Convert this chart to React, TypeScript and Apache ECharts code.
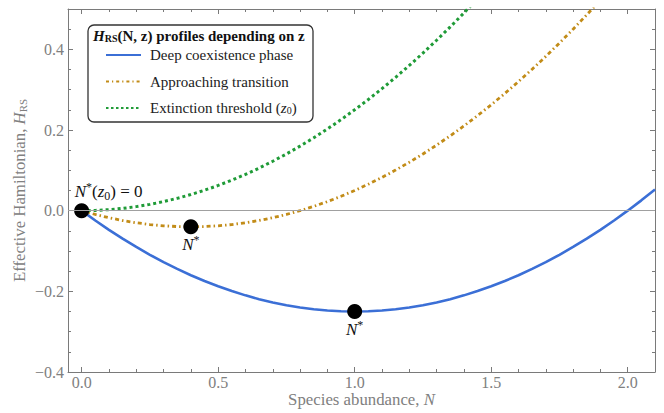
import React, { useEffect, useRef } from 'react';
import * as echarts from 'echarts';

// Species abundance N (sample grid)
const abundance = [
  0, 0.05, 0.1, 0.15, 0.2, 0.25, 0.3, 0.35, 0.4, 0.45, 0.5, 0.55, 0.6, 0.65, 0.7, 0.75, 0.8, 0.85, 0.9, 0.95, 1.0,
  1.05, 1.1, 1.15, 1.2, 1.25, 1.3, 1.35, 1.4, 1.45, 1.5, 1.55, 1.6, 1.65, 1.7, 1.75, 1.8, 1.85, 1.9, 1.95, 2.0, 2.05, 2.1,
];
// Effective Hamiltonian H_RS
const deepCoexistence = [
  0, -0.0244, -0.0475, -0.0694, -0.09, -0.1094, -0.1275, -0.1444, -0.16, -0.1744, -0.1875, -0.1994, -0.21, -0.2194,
  -0.2275, -0.2344, -0.24, -0.2444, -0.2475, -0.2494, -0.25, -0.2494, -0.2475, -0.2444, -0.24, -0.2344, -0.2275,
  -0.2194, -0.21, -0.1994, -0.1875, -0.1744, -0.16, -0.1444, -0.1275, -0.1094, -0.09, -0.0694, -0.0475, -0.0244, 0,
  0.0256, 0.0525,
];
const approachingTransition = [
  0, -0.0094, -0.0175, -0.0244, -0.03, -0.0344, -0.0375, -0.0394, -0.04, -0.0394, -0.0375, -0.0344, -0.03, -0.0244,
  -0.0175, -0.0094, 0, 0.0106, 0.0225, 0.0356, 0.05, 0.0656, 0.0825, 0.1006, 0.12, 0.1406, 0.1625, 0.1856, 0.21,
  0.2356, 0.2625, 0.2906, 0.32, 0.3506, 0.3825, 0.4156, 0.45, 0.4856, 0.5225, 0.5606,
];
const extinctionThreshold = [
  0, 0.0006, 0.0025, 0.0056, 0.01, 0.0156, 0.0225, 0.0306, 0.04, 0.0506, 0.0625, 0.0756, 0.09, 0.1056, 0.1225, 0.1406,
  0.16, 0.1806, 0.2025, 0.2256, 0.25, 0.2756, 0.3025, 0.3306, 0.36, 0.3906, 0.4225, 0.4556, 0.49, 0.5256,
];
// Equilibria N* marked with black dots
const equilibriaN = [0, 0.4, 1.0];
const equilibriaH = [0, -0.04, -0.25];
const equilibriaLabels = ['{i|N}{sup|*}{t|(}{i|z}{sub|0}{t|) = 0}', '{i|N}{sup|*}', '{i|N}{sup|*}'];

const seriesNames = ['Deep coexistence phase', 'Approaching transition', 'Extinction threshold (z0)'];
const legendTexts = ['{t|Deep coexistence phase}', '{t|Approaching transition}', '{t|Extinction threshold (}{i|z}{sub|0}{t|)}'];
const xMajorTicks = [0, 0.5, 1.0, 1.5, 2.0];
const yMajorTicks = [-0.4, -0.2, 0, 0.2, 0.4];

const COLORS = ['#3b6fd6', '#c28c18', '#1f9b37'];
const WIDTHS = [2.6, 2.8, 3];
const DASHES: any[] = [null, [4, 3, 1.5, 3], [3, 3]];

const SERIF = "'Liberation Serif', serif";
const FRAME = '#7a7a7a';
const LABEL = '#808080';
const TICK_FS = 16;
const NAME_FS = 16.8;

const fmtTick = (ticks: number[]) => (v: number) => {
  const hit = ticks.some((t) => Math.abs(t - v) < 1e-6);
  if (!hit) return '';
  const a = Math.abs(v) < 1e-9 ? 0 : v;
  return (a < 0 ? '\u2212' : '') + Math.abs(a).toFixed(1);
};

const markRich = {
  i: { fontStyle: 'italic', fontSize: 17, fontFamily: SERIF, color: '#111', lineHeight: 21 },
  t: { fontSize: 17, fontFamily: SERIF, color: '#111', lineHeight: 21 },
  sup: { fontSize: 12, fontFamily: SERIF, color: '#111', verticalAlign: 'top', lineHeight: 15 },
  sub: { fontSize: 12, fontFamily: SERIF, color: '#111', verticalAlign: 'bottom', lineHeight: 12 },
};

function xAxisDef(position: 'bottom' | 'top', major: boolean, withLabels: boolean): any {
  const step = major ? 0.5 : 0.1;
  return {
    type: 'value',
    position,
    min: -0.05,
    max: 2.1,
    minInterval: step,
    maxInterval: step,
    splitNumber: major ? 4 : 21,
    axisLine: { show: major, onZero: false, lineStyle: { color: FRAME, width: 1 } },
    axisTick: { show: true, inside: true, length: major ? 5 : 3, lineStyle: { color: FRAME, width: 1 } },
    axisLabel: {
      show: withLabels,
      formatter: fmtTick(xMajorTicks),
      color: LABEL,
      fontFamily: SERIF,
      fontSize: TICK_FS,
      lineHeight: 16,
      margin: 2,
    },
    splitLine: { show: false },
    ...(withLabels
      ? {
          name: '{n|Species abundance, }{i|N}',
          nameLocation: 'middle',
          nameGap: 19,
          nameMoveOverlap: false,
          nameTextStyle: {
            rich: {
              n: { fontFamily: SERIF, fontSize: NAME_FS, color: LABEL, lineHeight: 17 },
              i: { fontFamily: SERIF, fontSize: NAME_FS, color: LABEL, fontStyle: 'italic', lineHeight: 17 },
            },
          },
        }
      : {}),
  };
}

function yAxisDef(position: 'left' | 'right', major: boolean, withLabels: boolean): any {
  const step = major ? 0.2 : 0.05;
  return {
    type: 'value',
    position,
    min: -0.4,
    max: 0.5,
    minInterval: step,
    maxInterval: step,
    splitNumber: major ? 4 : 18,
    axisLine: { show: major, onZero: false, lineStyle: { color: FRAME, width: 1 } },
    axisTick: { show: true, inside: true, length: major ? 5 : 3, lineStyle: { color: FRAME, width: 1 } },
    axisLabel: {
      show: withLabels,
      formatter: fmtTick(yMajorTicks),
      color: LABEL,
      fontFamily: SERIF,
      fontSize: TICK_FS,
      margin: 4,
    },
    splitLine: { show: false },
    ...(withLabels
      ? {
          name: '{n|Effective Hamiltonian, }{i|H}{s|RS}',
          nameLocation: 'middle',
          nameGap: 40,
          nameMoveOverlap: false,
          nameTextStyle: {
            rich: {
              n: { fontFamily: SERIF, fontSize: NAME_FS, color: LABEL },
              i: { fontFamily: SERIF, fontSize: NAME_FS, color: LABEL, fontStyle: 'italic' },
              s: { fontFamily: SERIF, fontSize: 11, color: LABEL, verticalAlign: 'bottom' },
            },
          },
        }
      : {}),
  };
}

export default function App() {
  const ref = useRef<HTMLDivElement>(null);

  useEffect(() => {
    document.body.style.margin = '0';
    if (!ref.current) return;
    const chart = echarts.init(ref.current, undefined, { renderer: 'svg' });

    const legendRows = [55, 81.5, 108];
    const legendGraphics: any[] = [];
    seriesNames.forEach((_, k) => {
      legendGraphics.push({
        type: 'line',
        z: 6,
        shape: { x1: 106, y1: legendRows[k], x2: 141, y2: legendRows[k] },
        style: {
          stroke: COLORS[k],
          lineWidth: k === 0 ? 2 : 2.2,
          lineDash: DASHES[k] ? (k === 1 ? [3, 3, 1.2, 3] : [2.5, 2.5]) : null,
        },
      });
      legendGraphics.push({
        type: 'text',
        z: 6,
        x: 150,
        y: legendRows[k],
        style: {
          text: legendTexts[k],
          verticalAlign: 'middle',
          fontFamily: SERIF,
          fontSize: 15,
          fill: '#222',
          rich: {
            t: { fontFamily: SERIF, fontSize: 15, fontWeight: 'normal', fill: '#222' },
            i: { fontFamily: SERIF, fontSize: 15, fill: '#222', fontStyle: 'italic' },
            sub: { fontFamily: SERIF, fontSize: 10, fill: '#222', verticalAlign: 'bottom' },
          },
        },
      });
    });

    const option: any = {
      animation: false,
      backgroundColor: '#ffffff',
      textStyle: { fontFamily: SERIF },
      grid: { left: 68, right: 9, top: 9, bottom: 41, containLabel: false, outerBoundsMode: 'none' },
      xAxis: [
        xAxisDef('bottom', true, true),
        xAxisDef('bottom', false, false),
        xAxisDef('top', true, false),
        xAxisDef('top', false, false),
      ],
      yAxis: [
        yAxisDef('left', true, true),
        yAxisDef('left', false, false),
        yAxisDef('right', true, false),
        yAxisDef('right', false, false),
      ],
      graphic: [
        {
          type: 'rect',
          z: 5,
          shape: { x: 88, y: 25, width: 225, height: 97, r: 6 },
          style: { fill: '#ffffff', stroke: '#333333', lineWidth: 1.3 },
        },
        {
          type: 'text',
          z: 6,
          x: 93,
          y: 36,
          style: {
            text: '{h|H}{s|RS}{b|(N, z) profiles depending on z}',
            verticalAlign: 'middle',
            rich: {
              h: { fontFamily: SERIF, fontSize: 15, fontWeight: 'bold', fontStyle: 'italic', fill: '#111' },
              s: { fontFamily: SERIF, fontSize: 10, fontWeight: 'bold', fill: '#111', verticalAlign: 'bottom' },
              b: { fontFamily: SERIF, fontSize: 15, fontWeight: 'bold', fill: '#111' },
            },
          },
        },
        ...legendGraphics,
      ],
      series: [
        ...[deepCoexistence, approachingTransition, extinctionThreshold].map((vals, k) => ({
          name: seriesNames[k],
          type: 'line',
          symbol: 'none',
          z: 3,
          data: vals.map((h, i) => [abundance[i], h]),
          lineStyle: { color: COLORS[k], width: WIDTHS[k], type: DASHES[k] || 'solid', cap: 'butt' },
          itemStyle: { color: COLORS[k] },
          ...(k === 0
            ? {
                markLine: {
                  silent: true,
                  symbol: 'none',
                  label: { show: false },
                  lineStyle: { color: '#a0a0a0', width: 1, type: 'solid' },
                  data: [{ yAxis: 0 }],
                },
              }
            : {}),
        })),
        {
          name: 'equilibria',
          type: 'scatter',
          z: 4,
          symbol: 'circle',
          symbolSize: 15,
          itemStyle: { color: '#000000', opacity: 1 },
          data: equilibriaN.map((n, i) => ({
            value: [n, equilibriaH[i]],
            label: {
              show: true,
              formatter: equilibriaLabels[i],
              position: i === 0 ? 'top' : 'bottom',
              distance: i === 0 ? 1 : 0,
              offset: i === 0 ? [27, 0] : [0, 0],
              rich: markRich,
            },
          })),
        },
      ],
    };

    chart.setOption(option);
    return () => chart.dispose();
  }, []);

  return <div ref={ref} style={{ width: 664, height: 413 }} />;
}
